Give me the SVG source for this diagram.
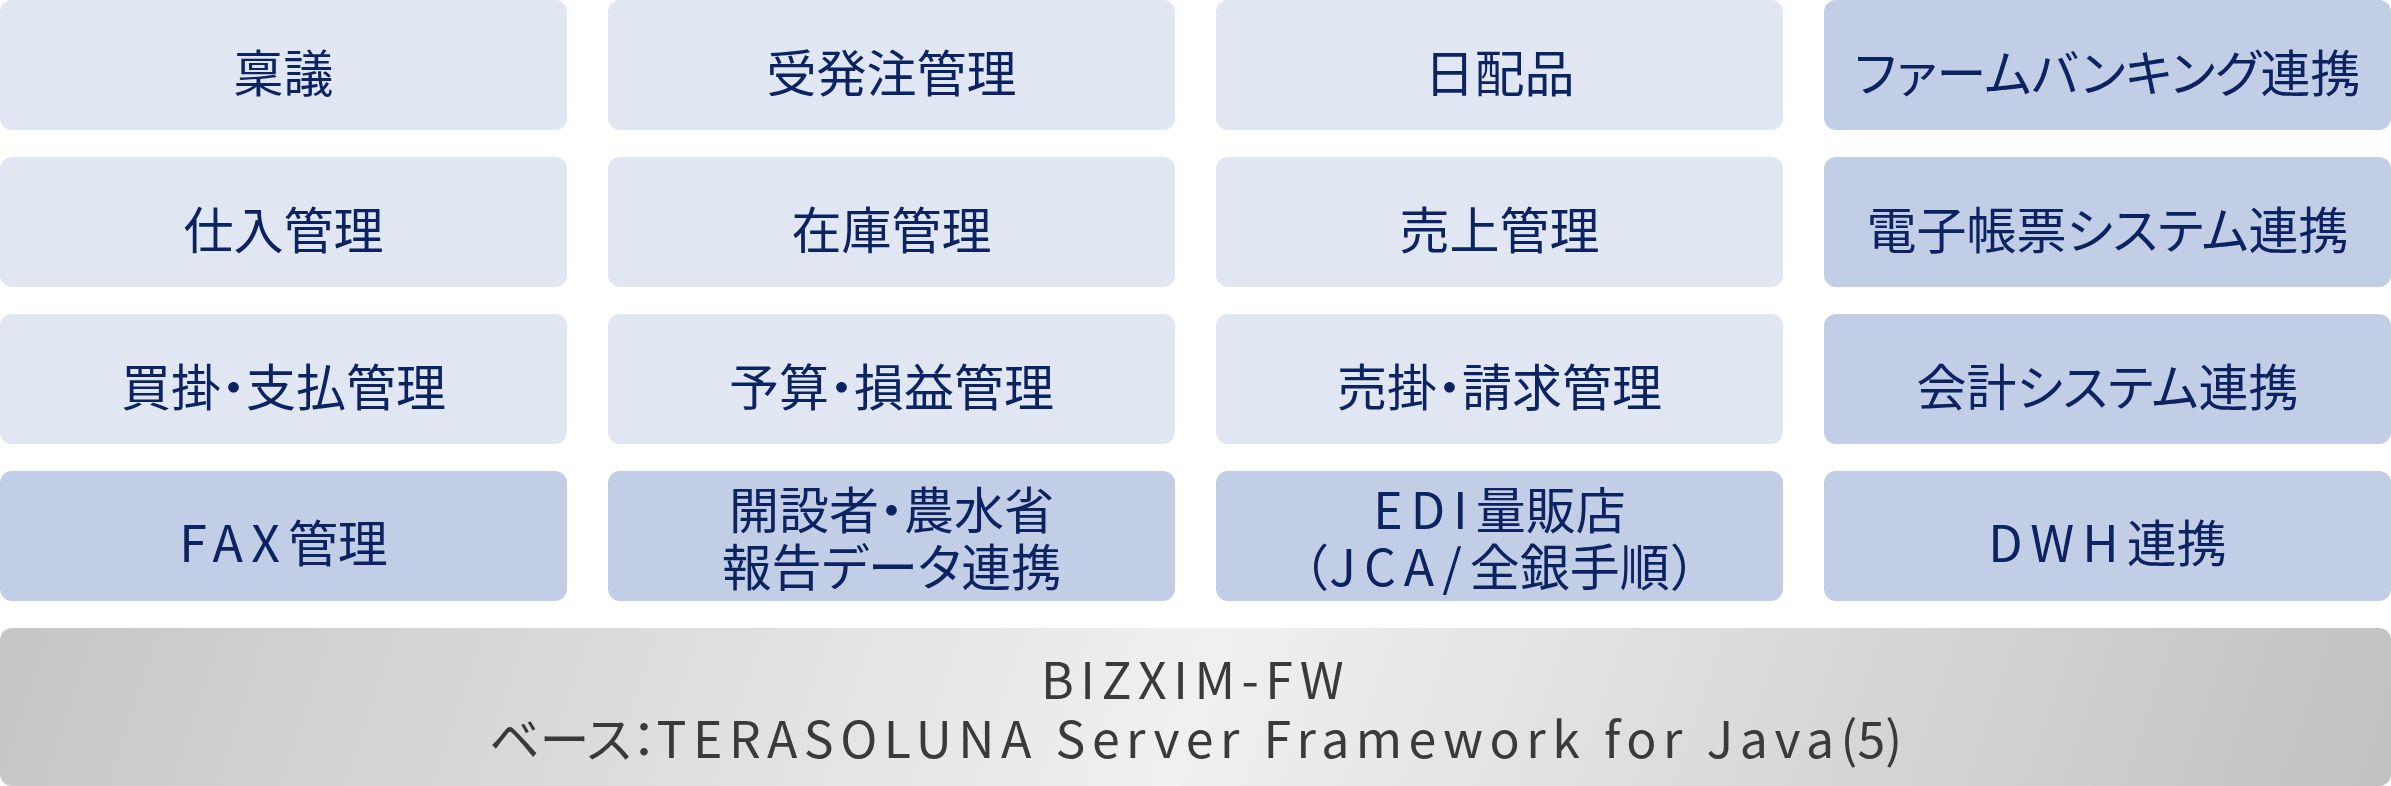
<svg xmlns="http://www.w3.org/2000/svg" width="2391" height="786" viewBox="0 0 2391 786">
<defs>
<style>
.t{font-family:"Noto Sans CJK JP","Noto Sans",sans-serif;font-size:50px;fill:#0B2461;text-anchor:middle;dominant-baseline:central;font-feature-settings:"palt";}
.np{font-feature-settings:normal;}
.b{font-family:"Noto Sans CJK JP","Noto Sans",sans-serif;font-size:50px;fill:#3A3A3A;text-anchor:middle;dominant-baseline:central;font-feature-settings:"palt";}
.lt{letter-spacing:8px;}
.lb{letter-spacing:6.5px;}
.l{fill:#E0E6F2;}
.d{fill:#C2CEE6;}
</style>
<linearGradient id="g" gradientUnits="userSpaceOnUse" x1="0" y1="300" x2="2391" y2="1100">
<stop offset="0" stop-color="#C2C2C2"/>
<stop offset="0.5" stop-color="#F0F0F0"/>
<stop offset="1" stop-color="#BDBDBD"/>
</linearGradient>
</defs>
<g id="n1"><rect class="l" x="0" y="0" width="567" height="130" rx="12"/><text class="t" x="283.5" y="70">稟議</text></g>
<g id="n2"><rect class="l" x="608" y="0" width="567" height="130" rx="12"/><text class="t" x="891.5" y="70">受発注管理</text></g>
<g id="n3"><rect class="l" x="1216" y="0" width="567" height="130" rx="12"/><text class="t" x="1499.5" y="70">日配品</text></g>
<g id="n4"><rect class="d" x="1824" y="0" width="567" height="130" rx="12"/><text class="t" x="2107.5" y="70">ファームバンキング連携</text></g>
<g id="n5"><rect class="l" x="0" y="157" width="567" height="130" rx="12"/><text class="t" x="283.5" y="227">仕入管理</text></g>
<g id="n6"><rect class="l" x="608" y="157" width="567" height="130" rx="12"/><text class="t" x="891.5" y="227">在庫管理</text></g>
<g id="n7"><rect class="l" x="1216" y="157" width="567" height="130" rx="12"/><text class="t" x="1499.5" y="227">売上管理</text></g>
<g id="n8"><rect class="d" x="1824" y="157" width="567" height="130" rx="12"/><text class="t" x="2107.5" y="227">電子帳票システム連携</text></g>
<g id="n9"><rect class="l" x="0" y="314" width="567" height="130" rx="12"/><text class="t" x="283.5" y="384">買掛・支払管理</text></g>
<g id="n10"><rect class="l" x="608" y="314" width="567" height="130" rx="12"/><text class="t" x="891.5" y="384">予算・損益管理</text></g>
<g id="n11"><rect class="l" x="1216" y="314" width="567" height="130" rx="12"/><text class="t" x="1499.5" y="384">売掛・請求管理</text></g>
<g id="n12"><rect class="d" x="1824" y="314" width="567" height="130" rx="12"/><text class="t" x="2107.5" y="384">会計システム連携</text></g>
<g id="n13"><rect class="d" x="0" y="471" width="567" height="130" rx="12"/><text class="t" x="283.5" y="540"><tspan class="lt">FAX</tspan>管理</text></g>
<g id="n14"><rect class="d" x="608" y="471" width="567" height="130" rx="12"/><text class="t" x="891.5" y="507">開設者・農水省</text><text class="t" x="891.5" y="564">報告データ連携</text></g>
<g id="n15"><rect class="d" x="1216" y="471" width="567" height="130" rx="12"/><text class="t" x="1499.5" y="507"><tspan class="lt">EDI</tspan>量販店</text><text class="t np" x="1499.5" y="564">（<tspan class="lt">JCA/</tspan>全銀手順）</text></g>
<g id="n16"><rect class="d" x="1824" y="471" width="567" height="130" rx="12"/><text class="t" x="2107.5" y="540"><tspan class="lt">DWH</tspan>連携</text></g>
<g id="base"><rect x="0" y="628" width="2391" height="158" rx="12" fill="url(#g)"/><text class="b" x="1195.5" y="677"><tspan class="lb">BIZXIM-FW</tspan></text><text class="b" x="1195.5" y="736">ベース：<tspan class="lb">TERASOLUNA Server Framework for Java</tspan>(5)</text></g>
<g id="connectors"></g>
</svg>
